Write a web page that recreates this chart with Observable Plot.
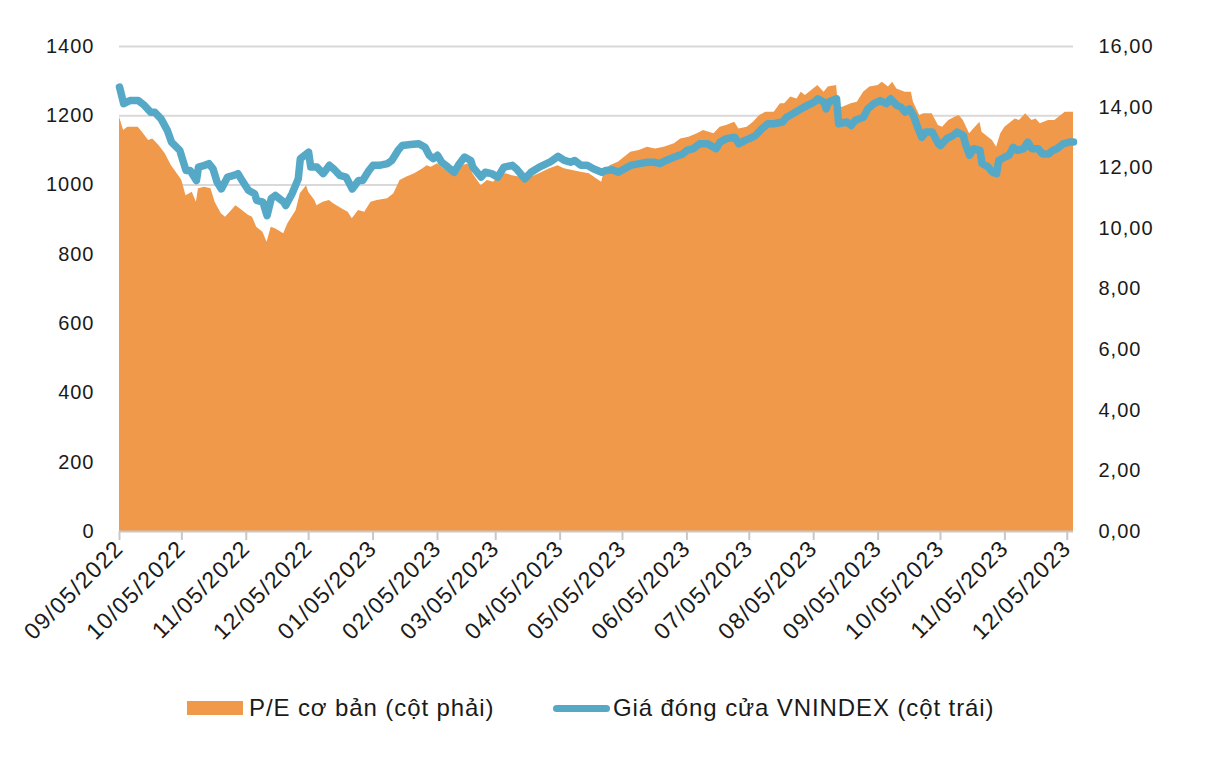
<!DOCTYPE html>
<html>
<head>
<meta charset="utf-8">
<script src="https://cdn.jsdelivr.net/npm/d3@7"></script>
<script src="https://cdn.jsdelivr.net/npm/@observablehq/plot@0.6"></script>
<style>
  html, body { margin: 0; padding: 0; background: #ffffff; }
  #wrap { position: relative; width: 1219px; height: 759px; font-family: "Liberation Sans", Arial, sans-serif; }
  #chart svg { display: block; }
  g[aria-label="x-axis tick label"] text { letter-spacing: 1.4px; }
  g[aria-label="y-axis tick label"] text { letter-spacing: 1px; }
  #legend { position: absolute; top: 690px; left: 0; width: 1219px; height: 36px; }
  .li { position: absolute; top: 0; height: 36px; display: flex; align-items: center; font-size: 24px; color: #1a1a1a; letter-spacing: 0.9px; white-space: nowrap; }
  .sw-area { width: 56px; height: 14px; background: #F0994A; margin-right: 6px; }
  .sw-line { width: 57px; height: 7px; border-radius: 4px; background: #55A9C6; margin-right: 3px; }
</style>
</head>
<body>
<div id="wrap">
  <div id="chart"></div>
  <div id="legend">
    <div class="li" style="left:187px"><div class="sw-area"></div><span>P/E cơ bản (cột phải)</span></div>
    <div class="li" style="left:553px"><div class="sw-line"></div><span>Giá đóng cửa VNINDEX (cột trái)</span></div>
  </div>
</div>
<script>
// ---- Data: VNINDEX closing price (left axis) ----
const vniDates = ["2022-09-05","2022-09-07","2022-09-10","2022-09-14","2022-09-17","2022-09-20","2022-09-22","2022-09-25","2022-09-28","2022-09-30",
"2022-10-04","2022-10-05","2022-10-07","2022-10-09","2022-10-12","2022-10-13","2022-10-16","2022-10-18","2022-10-20","2022-10-22","2022-10-24","2022-10-27","2022-10-30",
"2022-11-01","2022-11-03","2022-11-06","2022-11-09","2022-11-10","2022-11-13","2022-11-15","2022-11-17","2022-11-19","2022-11-23","2022-11-24","2022-11-27","2022-11-30",
"2022-12-01","2022-12-05","2022-12-06","2022-12-09","2022-12-12","2022-12-15","2022-12-17","2022-12-20","2022-12-23","2022-12-26","2022-12-29","2022-12-31",
"2023-01-03","2023-01-05","2023-01-08","2023-01-12","2023-01-14","2023-01-17","2023-01-19","2023-01-23","2023-01-27","2023-01-30",
"2023-02-01","2023-02-03","2023-02-05","2023-02-07","2023-02-10","2023-02-13","2023-02-15","2023-02-18","2023-02-21","2023-02-22","2023-02-26","2023-02-28",
"2023-03-03","2023-03-06","2023-03-09","2023-03-13","2023-03-15","2023-03-19","2023-03-22","2023-03-26","2023-03-31",
"2023-04-04","2023-04-07","2023-04-10","2023-04-12","2023-04-15","2023-04-18","2023-04-21","2023-04-25","2023-04-27","2023-04-30",
"2023-05-03","2023-05-06","2023-05-09","2023-05-13","2023-05-17","2023-05-20","2023-05-23","2023-05-26","2023-05-30",
"2023-06-03","2023-06-05","2023-06-08","2023-06-11","2023-06-15","2023-06-19","2023-06-21","2023-06-24","2023-06-28","2023-06-30",
"2023-07-03","2023-07-05","2023-07-08","2023-07-11","2023-07-14","2023-07-17","2023-07-21","2023-07-23","2023-07-26","2023-07-30",
"2023-08-02","2023-08-05","2023-08-07","2023-08-10","2023-08-11","2023-08-12","2023-08-16","2023-08-17","2023-08-21","2023-08-23","2023-08-25","2023-08-29","2023-08-31",
"2023-09-03","2023-09-06","2023-09-09","2023-09-11","2023-09-14","2023-09-16","2023-09-18","2023-09-20","2023-09-22","2023-09-24","2023-09-26","2023-09-28",
"2023-10-01","2023-10-04","2023-10-05","2023-10-08","2023-10-11","2023-10-13","2023-10-16","2023-10-17","2023-10-19","2023-10-21","2023-10-24","2023-10-25","2023-10-28","2023-10-30",
"2023-11-01","2023-11-02","2023-11-05","2023-11-07","2023-11-09","2023-11-11","2023-11-14","2023-11-16","2023-11-18","2023-11-21","2023-11-23","2023-11-26","2023-11-28","2023-11-30",
"2023-12-03","2023-12-06","2023-12-08"];
const vniClose = [1283,1235,1244,1244,1230,1210,1210,1191,1158,1124,
1100,1081,1042,1042,1013,1052,1057,1062,1047,1008,989,1023,1028,
1033,1013,985,975,956,951,912,961,970,951,941,975,1018,
1076,1095,1052,1052,1033,1057,1047,1028,1023,989,1013,1013,
1042,1057,1057,1062,1071,1100,1114,1117,1119,1109,
1086,1076,1086,1066,1052,1037,1057,1081,1071,1052,1023,1037,
1033,1023,1052,1057,1047,1018,1037,1052,1066,
1083,1071,1066,1071,1057,1057,1047,1037,1042,1044,
1037,1047,1057,1062,1066,1066,1062,1071,1081,
1090,1100,1105,1119,1119,1105,1124,1134,1138,1119,
1129,1134,1143,1162,1177,1177,1182,1196,1206,1220,
1230,1239,1249,1239,1220,1239,1249,1177,1182,1172,1187,1196,1220,
1235,1244,1235,1249,1230,1225,1211,1220,1201,1167,1138,1153,
1153,1119,1114,1134,1143,1153,1143,1119,1086,1105,1100,1062,1052,1037,
1033,1071,1081,1086,1109,1100,1105,1124,1105,1105,1090,1090,1100,1105,
1119,1124,1124];

// ---- Data: basic P/E (right axis) ----
const peDates = ["2022-09-05","2022-09-07","2022-09-09","2022-09-14","2022-09-16","2022-09-19","2022-09-21","2022-09-24","2022-09-27","2022-09-30",
"2022-10-04","2022-10-05","2022-10-07","2022-10-10","2022-10-12","2022-10-13","2022-10-16","2022-10-19","2022-10-21","2022-10-24","2022-10-26","2022-10-29","2022-10-31",
"2022-11-02","2022-11-06","2022-11-08","2022-11-10","2022-11-13","2022-11-15","2022-11-17","2022-11-19","2022-11-23","2022-11-25","2022-11-29",
"2022-12-01","2022-12-04","2022-12-05","2022-12-08","2022-12-09","2022-12-12","2022-12-15","2022-12-17","2022-12-21","2022-12-24","2022-12-26","2022-12-29",
"2023-01-01","2023-01-04","2023-01-07","2023-01-12","2023-01-15","2023-01-18","2023-01-21","2023-01-25","2023-01-29","2023-01-31",
"2023-02-02","2023-02-05","2023-02-08","2023-02-11","2023-02-14","2023-02-17","2023-02-20","2023-02-22","2023-02-26",
"2023-03-01","2023-03-04","2023-03-07","2023-03-10","2023-03-13","2023-03-17","2023-03-19","2023-03-22","2023-03-26","2023-03-31",
"2023-04-04","2023-04-07","2023-04-11","2023-04-15","2023-04-19","2023-04-25","2023-04-26","2023-04-29",
"2023-05-03","2023-05-06","2023-05-09","2023-05-13","2023-05-17","2023-05-21","2023-05-25","2023-05-30",
"2023-06-02","2023-06-06","2023-06-10","2023-06-13","2023-06-18","2023-06-21","2023-06-24","2023-06-28","2023-06-30",
"2023-07-04","2023-07-07","2023-07-10","2023-07-13","2023-07-17","2023-07-20","2023-07-22","2023-07-25","2023-07-28","2023-07-30",
"2023-08-01","2023-08-04","2023-08-07","2023-08-10","2023-08-12","2023-08-16","2023-08-17","2023-08-19","2023-08-23","2023-08-26","2023-08-29",
"2023-09-01","2023-09-05","2023-09-07","2023-09-10","2023-09-12","2023-09-14","2023-09-18","2023-09-21","2023-09-22","2023-09-25","2023-09-27",
"2023-10-01","2023-10-04","2023-10-06","2023-10-09","2023-10-12","2023-10-14","2023-10-16","2023-10-19","2023-10-21","2023-10-24","2023-10-25","2023-10-28","2023-10-30",
"2023-11-01","2023-11-03","2023-11-05","2023-11-08","2023-11-10","2023-11-12","2023-11-15","2023-11-18","2023-11-20","2023-11-22","2023-11-26","2023-11-29",
"2023-12-01","2023-12-04","2023-12-08"];
const peValues = [13.67,13.23,13.34,13.34,13.17,12.90,12.95,12.73,12.46,12.07,
11.69,11.58,11.08,11.19,10.86,11.31,11.36,11.31,10.86,10.48,10.37,10.59,10.75,
10.65,10.43,10.37,10.04,9.87,9.54,10.04,9.99,9.82,10.15,10.59,
11.14,11.41,11.19,10.92,10.75,10.86,10.92,10.81,10.65,10.53,10.32,10.59,
10.53,10.86,10.92,10.98,11.14,11.58,11.69,11.80,11.97,12.07,
12.02,12.13,11.97,11.85,11.80,12.07,12.13,11.80,11.41,
11.58,11.52,11.75,11.80,11.74,11.69,11.52,11.69,11.80,11.97,
12.07,11.97,11.91,11.85,11.80,11.52,11.80,12.07,
12.18,12.35,12.51,12.57,12.68,12.62,12.68,12.79,
12.95,13.01,13.12,13.23,13.12,13.34,13.39,13.50,13.28,
13.34,13.50,13.72,13.83,13.83,14.11,14.11,14.33,14.27,14.49,
14.38,14.55,14.71,14.49,14.66,14.71,14.00,14.00,14.11,14.16,14.49,
14.66,14.71,14.82,14.66,14.82,14.60,14.49,14.49,14.16,13.72,13.78,
13.78,13.39,13.34,13.56,13.67,13.72,13.56,13.12,13.28,13.50,13.17,13.01,12.90,
12.68,13.12,13.34,13.50,13.61,13.56,13.78,13.56,13.61,13.45,13.56,13.56,
13.67,13.83,13.83];

// ---- Axis ticks ----
const leftTicks = [0, 200, 400, 600, 800, 1000, 1200, 1400];
const rightTicks = [0, 2, 4, 6, 8, 10, 12, 14, 16];
const monthTicks = ["2022-09-05","2022-10-05","2022-11-05","2022-12-05","2023-01-05","2023-02-05","2023-03-05",
"2023-04-05","2023-05-05","2023-06-05","2023-07-05","2023-08-05","2023-09-05","2023-10-05","2023-11-05","2023-12-05"];
const xDomain = ["2022-09-05", "2023-12-08"];

const colors = { pe: "#F0994A", vni: "#55A9C6", grid: "#D9D9D9", axis: "#C8C8C8", text: "#1a1a1a" };

const parse = d3.utcParse("%Y-%m-%d");
const vni = vniDates.map((d, i) => ({ date: parse(d), value: vniClose[i] }));
const pe = peDates.map((d, i) => ({ date: parse(d), value: peValues[i] }));
const k = 1400 / 16; // right-axis value -> left-axis scale

const chart = Plot.plot({
  width: 1219,
  height: 680,
  marginLeft: 119,
  marginRight: 146,
  marginTop: 46,
  marginBottom: 149,
  style: { fontFamily: "'Liberation Sans', Arial, sans-serif", color: colors.text, background: "transparent" },
  x: { type: "utc", domain: xDomain.map(parse) },
  y: { domain: [0, 1400] },
  marks: [
    Plot.ruleY(leftTicks.slice(1), { stroke: colors.grid, strokeWidth: 2 }),
    Plot.areaY(pe, { x: "date", y: d => d.value * k, fill: colors.pe }),
    Plot.ruleY([0], { stroke: colors.axis, strokeWidth: 2 }),
    Plot.lineY(vni, { x: "date", y: "value", stroke: colors.vni, strokeWidth: 7.5, strokeLinejoin: "round", strokeLinecap: "round" }),
    Plot.axisY(leftTicks, { anchor: "left", tickSize: 0, tickPadding: 25, fontSize: 20, label: null,
      tickFormat: v => String(v) }),
    Plot.axisY(rightTicks.map(v => v * k), { anchor: "right", tickSize: 0, tickPadding: 25, fontSize: 20, label: null,
      tickFormat: v => (v / k).toFixed(2).replace(".", ",") }),
    Plot.axisX(monthTicks.map(parse), { anchor: "bottom", tickSize: 9, stroke: colors.axis, strokeWidth: 2, tickPadding: 4,
      tickRotate: -45, fontSize: 23, label: null, tickFormat: d3.utcFormat("%m/%d/%Y") })
  ]
});
document.getElementById("chart").appendChild(chart);
</script>
</body>
</html>
